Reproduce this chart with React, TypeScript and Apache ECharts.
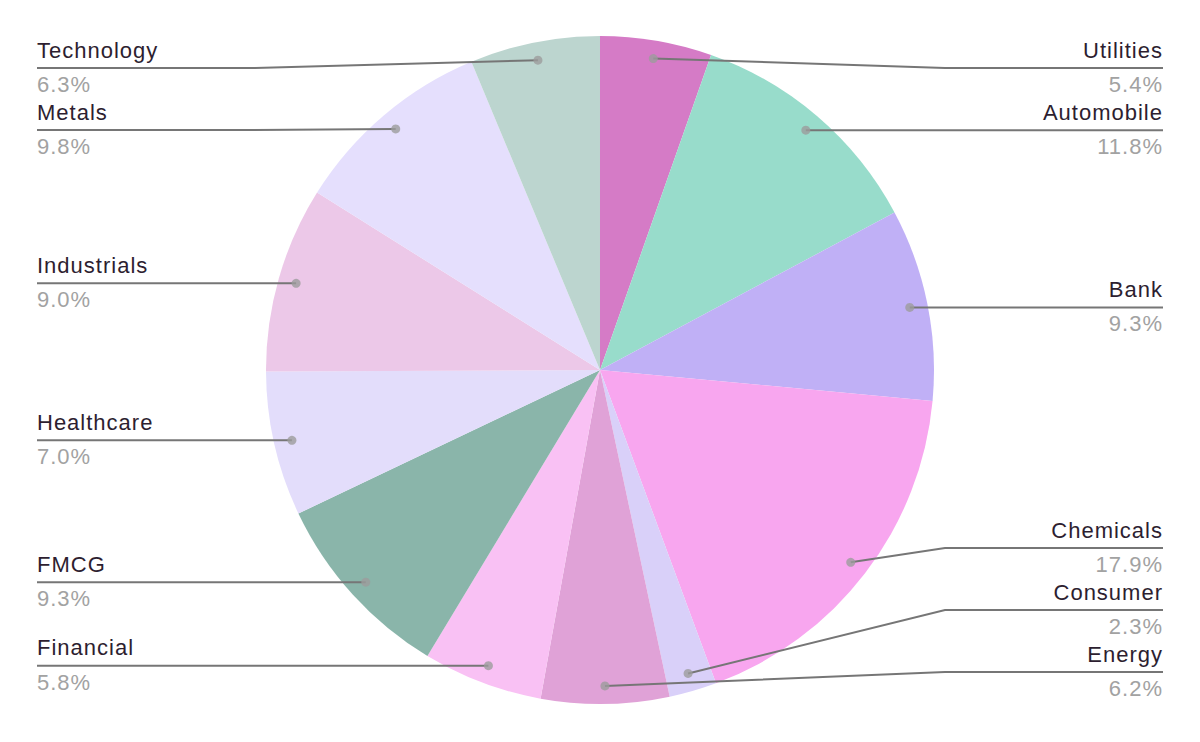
import React, { useEffect, useRef } from 'react';
import * as echarts from 'echarts';

const categories = ['Utilities', 'Automobile', 'Bank', 'Chemicals', 'Consumer', 'Energy', 'Financial', 'FMCG', 'Healthcare', 'Industrials', 'Metals', 'Technology'];
const shares = [5.4, 11.8, 9.3, 17.9, 2.3, 6.2, 5.8, 9.3, 7.0, 9.0, 9.8, 6.3];
const sliceColors = ['#d57bc6', '#98dccb', '#c0b0f6', '#f8a6ef', '#d9d0f9', '#e0a2d7', '#f9c1f4', '#8ab5aa', '#e3ddfb', '#ecc8e8', '#e5dffd', '#bcd5cf'];

export default function App() {
  const ref = useRef<HTMLDivElement>(null);
  useEffect(() => {
    document.body.style.margin = '0';
    document.body.style.overflow = 'hidden';
    const chart = echarts.init(ref.current!, null, { renderer: 'svg' });
    const total = shares.reduce((a, b) => a + b, 0);
    const mids: number[] = [];
    let acc = 0;
    shares.forEach((v) => { mids.push(acc + v / 2); acc += v; });
    const data = categories.map((name, i) => ({ name, value: shares[i] }));

    const box = { left: 37, top: 37, width: 1126, height: 666 };
    const cx = 600, cy = 370, R = 334, rDot = 316, elbow = 11;
    const gap = 62, lo = box.top + gap / 2 - 0, hi = box.top + box.height - gap / 2 + 0;

    // label line heights: start at dot height, then resolve collisions per side
    const dotY = mids.map((m) => cy - rDot * Math.cos((2 * Math.PI * m) / total));
    const isRight = mids.map((m) => m < total / 2);
    const labelY: number[] = new Array(shares.length).fill(0);
    [true, false].forEach((side) => {
      const idx = shares.map((_, i) => i).filter((i) => isRight[i] === side).sort((a, b) => dotY[a] - dotY[b]);
      const ys = idx.map((i) => dotY[i]);
      for (let k = 0; k < ys.length; k++) ys[k] = Math.max(ys[k], lo, k > 0 ? ys[k - 1] + gap : -Infinity);
      for (let k = ys.length - 1; k >= 0; k--) ys[k] = Math.min(ys[k], hi, k < ys.length - 1 ? ys[k + 1] - gap : Infinity);
      idx.forEach((i, k) => { labelY[i] = ys[k]; });
    });

    const font = '"Liberation Sans", Arial, sans-serif';
    chart.setOption({
      animation: false,
      color: sliceColors,
      polar: { center: [cx, cy], radius: R },
      angleAxis: { type: 'value', min: 0, max: total, startAngle: 90, clockwise: true, show: false },
      radiusAxis: { type: 'value', min: 0, max: R, show: false },
      series: [
        {
          type: 'pie', ...box, center: ['50%', '50%'], radius: R, startAngle: 90, clockwise: true,
          data, silent: true, z: 1, label: { show: false }, labelLine: { show: false },
          itemStyle: { borderWidth: 0 },
        },
        {
          type: 'pie', ...box, center: ['50%', '50%'], radius: rDot, startAngle: 90, clockwise: true,
          data, silent: true, z: 5, avoidLabelOverlap: false,
          itemStyle: { color: 'rgba(0,0,0,0)', borderWidth: 0 },
          label: {
            show: true, position: 'outside', alignTo: 'edge', edgeDistance: 0, overflow: 'none',
            fontFamily: font,
            formatter: (p: any) => `{n|${p.name}}\n{p|${Number(p.value).toFixed(1)}%}`,
            rich: {
              n: { fontSize: 22, fontFamily: font, color: '#2d1e30', lineHeight: 31, padding: [0, 0, 5, 0] },
              p: { fontSize: 22, fontFamily: font, color: '#a2a2a2', lineHeight: 31, padding: [2, 0, 0, 0] },
            },
          },
          labelLine: { show: true, length: 0, length2: 0, smooth: false, lineStyle: { color: '#767676', width: 2 } },
          labelLayout: (p: any) => {
            const i = p.dataIndex;
            const right = isRight[i];
            const y = labelY[i];
            const endX = right ? box.left + box.width : box.left;
            const midX = right ? cx + R + elbow : cx - R - elbow;
            const pts = p.labelLinePoints;
            const start = pts ? [pts[0][0], pts[0][1]] : [cx, cy];
            return {
              x: endX, y, align: right ? 'right' : 'left', verticalAlign: 'middle',
              labelLinePoints: [start, [midX, y], [endX, y]],
            };
          },
        },
        {
          type: 'scatter', coordinateSystem: 'polar', silent: true, z: 10,
          data: mids.map((m) => [rDot, m]), symbol: 'circle', symbolSize: 9,
          itemStyle: { color: '#9c9c9c' },
        },
      ],
    });
    return () => chart.dispose();
  }, []);
  return <div ref={ref} style={{ width: 1200, height: 742, letterSpacing: '1px' }} />;
}
